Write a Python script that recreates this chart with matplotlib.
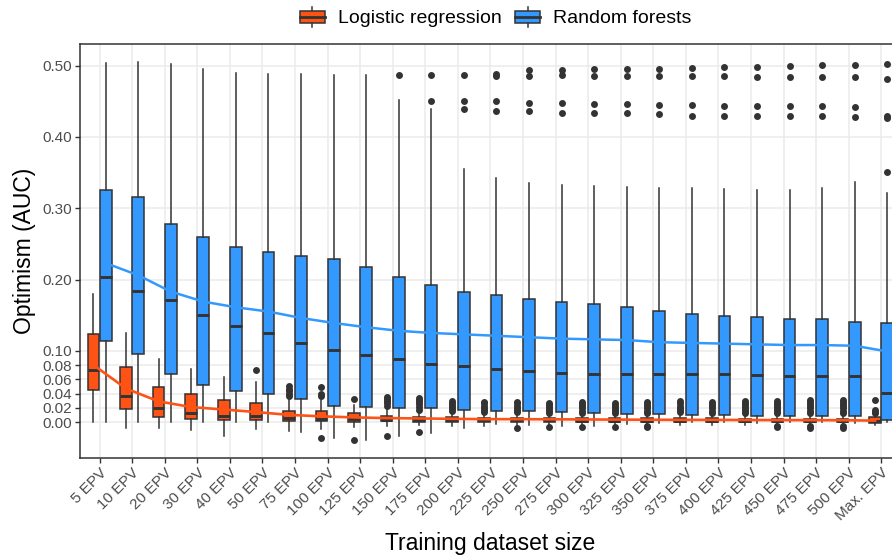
import matplotlib
matplotlib.use("Agg")
import matplotlib.pyplot as plt
import numpy as np
from matplotlib.patches import Patch, Rectangle
from matplotlib.lines import Line2D
from matplotlib.legend_handler import HandlerBase

plt.rcParams['font.family'] = ['Liberation Sans', 'DejaVu Sans']

categories = ['5 EPV', '10 EPV', '20 EPV', '30 EPV', '40 EPV', '50 EPV', '75 EPV',
              '100 EPV', '125 EPV', '150 EPV', '175 EPV', '200 EPV', '225 EPV',
              '250 EPV', '275 EPV', '300 EPV', '325 EPV', '350 EPV', '375 EPV',
              '400 EPV', '425 EPV', '450 EPV', '475 EPV', '500 EPV', 'Max. EPV']

# logistic regression: box statistics per training size
lr_whishi = [0.180, 0.125, 0.089, 0.075, 0.063, 0.056, 0.033, 0.031, 0.024, 0.018,
             0.012, 0.012, 0.011, 0.011, 0.010, 0.010, 0.010, 0.010, 0.010, 0.010,
             0.010, 0.010, 0.010, 0.010, 0.011]
lr_q3 = [0.124, 0.077, 0.049, 0.039, 0.031, 0.026, 0.016, 0.016, 0.013, 0.009,
         0.0075, 0.0066, 0.006, 0.006, 0.0055, 0.0055, 0.005, 0.005, 0.005, 0.005,
         0.0045, 0.0045, 0.0045, 0.0045, 0.007]
lr_med = [0.073, 0.037, 0.020, 0.012, 0.008, 0.008, 0.005, 0.004, 0.004, 0.003,
          0.003, 0.0025, 0.0025, 0.0025, 0.0025, 0.002, 0.002, 0.002, 0.002, 0.002,
          0.002, 0.002, 0.002, 0.002, 0.002]
lr_q1 = [0.045, 0.018, 0.007, 0.004, 0.003, 0.003, 0.0014, 0.0014, 0.0, 0.001,
         0.0, 0.0, 0.0, 0.0, 0.0, 0.0, 0.0, 0.0, 0.0, 0.0,
         0.0, 0.0, 0.0, 0.0, -0.001]
lr_whislo = [0.0, -0.009, -0.009, -0.011, -0.019, -0.010, -0.013, -0.010, -0.007, -0.006,
             -0.004, -0.005, -0.006, -0.005, -0.005, -0.005, -0.005, -0.005, -0.004, -0.004,
             -0.004, -0.004, -0.004, -0.004, -0.004]
lr_mean = [0.080, 0.047, 0.029, 0.021, 0.0175, 0.014, 0.010, 0.008, 0.0065, 0.0055,
           0.005, 0.0045, 0.004, 0.004, 0.0038, 0.0036, 0.0034, 0.0032, 0.003, 0.003,
           0.0028, 0.0027, 0.0026, 0.0025, 0.002]
lr_fliers = [[], [], [], [], [], [0.073],
             [0.050, 0.046, 0.043, 0.040, 0.037],
             [0.049, 0.040, 0.037, -0.023],
             [0.032, -0.025],
             [0.035, 0.032, 0.029, 0.026, 0.022, -0.019],
             [0.034, 0.031, 0.028, 0.025, 0.021, 0.017, -0.014],
             [0.030, 0.027, 0.024, 0.021, 0.018, 0.015],
             [0.0285, 0.026, 0.023, 0.020, 0.017, 0.014],
             [0.0285, 0.026, 0.023, 0.020, 0.017, 0.014, -0.009],
             [0.027, 0.024, 0.021, 0.018, 0.015, 0.012, -0.0075],
             [0.0285, 0.025, 0.022, 0.019, 0.016, 0.013, -0.0075],
             [0.027, 0.024, 0.021, 0.018, 0.015, 0.012, -0.007],
             [0.0285, 0.025, 0.022, 0.019, 0.016, 0.013, -0.006, -0.0075],
             [0.029, 0.026, 0.023, 0.020, 0.017, 0.014],
             [0.0285, 0.025, 0.022, 0.019, 0.016, 0.013],
             [0.030, 0.027, 0.024, 0.021, 0.018, 0.015, 0.012],
             [0.030, 0.027, 0.024, 0.021, 0.018, 0.015, 0.012, -0.006, -0.0075],
             [0.031, 0.028, 0.025, 0.022, 0.019, 0.016, 0.013, -0.006, -0.008],
             [0.031, 0.028, 0.025, 0.022, 0.019, 0.016, 0.013, -0.006, -0.008],
             [0.031, 0.0175, 0.0145, 0.0125]]

# random forests
rf_whishi = [0.504, 0.505, 0.503, 0.496, 0.490, 0.489, 0.488, 0.487, 0.487, 0.452,
             0.439, 0.355, 0.343, 0.336, 0.332, 0.331, 0.330, 0.329, 0.328, 0.327,
             0.326, 0.326, 0.329, 0.337, 0.321]
rf_q3 = [0.326, 0.316, 0.278, 0.260, 0.246, 0.239, 0.233, 0.229, 0.218, 0.204,
         0.192, 0.182, 0.178, 0.173, 0.169, 0.166, 0.162, 0.156, 0.152, 0.149,
         0.147, 0.145, 0.144, 0.141, 0.139]
rf_med = [0.203, 0.184, 0.171, 0.150, 0.135, 0.125, 0.111, 0.101, 0.094, 0.088,
          0.082, 0.078, 0.074, 0.071, 0.069, 0.068, 0.068, 0.068, 0.067, 0.067,
          0.066, 0.065, 0.064, 0.064, 0.041]
rf_q1 = [0.114, 0.095, 0.067, 0.052, 0.044, 0.040, 0.033, 0.023, 0.021, 0.020,
         0.019, 0.017, 0.016, 0.015, 0.014, 0.012, 0.011, 0.011, 0.010, 0.010,
         0.009, 0.009, 0.009, 0.009, 0.003]
rf_whislo = [0.0, 0.0, 0.0, 0.0, 0.0, 0.0, -0.014, -0.023, -0.025, -0.019,
             -0.015, -0.008, -0.003, -0.004, -0.006, -0.006, -0.003, -0.001, 0.0, 0.0,
             -0.001, 0.0, 0.0, -0.001, 0.0]
rf_mean = [0.223, 0.206, 0.183, 0.169, 0.161, 0.155, 0.146, 0.139, 0.133, 0.128,
           0.125, 0.123, 0.121, 0.119, 0.117, 0.116, 0.115, 0.112, 0.111, 0.110,
           0.109, 0.108, 0.108, 0.107, 0.099]
rf_fliers = [[], [], [], [], [], [], [], [], [], [0.487],
             [0.487, 0.451],
             [0.487, 0.451, 0.439],
             [0.489, 0.486, 0.450, 0.437],
             [0.494, 0.486, 0.448, 0.436],
             [0.494, 0.487, 0.447, 0.434],
             [0.495, 0.485, 0.446, 0.434],
             [0.496, 0.485, 0.446, 0.433],
             [0.496, 0.485, 0.445, 0.432],
             [0.497, 0.485, 0.445, 0.430],
             [0.498, 0.485, 0.444, 0.430],
             [0.498, 0.484, 0.443, 0.429],
             [0.4995, 0.484, 0.443, 0.429],
             [0.501, 0.484, 0.443, 0.429],
             [0.501, 0.484, 0.4425, 0.428],
             [0.502, 0.481, 0.429, 0.427, 0.351]]

yticks = [0.0, 0.02, 0.04, 0.06, 0.08, 0.10, 0.20, 0.30, 0.40, 0.50]

LR_COL = '#FF5215'
RF_COL = '#3399FF'
EDGE = '#333333'


def box_stats(whislo, q1, med, q3, whishi, fliers):
    return [dict(whislo=a, q1=b, med=c, q3=d, whishi=e, fliers=f)
            for a, b, c, d, e, f in zip(whislo, q1, med, q3, whishi, fliers)]


class BoxKey(HandlerBase):
    # little boxplot glyph for the legend
    def create_artists(self, legend, orig, xdescent, ydescent, width, height, fontsize, trans):
        x0, y0 = -xdescent, -ydescent
        bh = height * 0.62
        whisk = Line2D([x0 + width / 2] * 2, [y0, y0 + height], color=EDGE, lw=1.1, transform=trans)
        rect = Rectangle((x0, y0 + (height - bh) / 2), width, bh, facecolor=orig.get_facecolor(),
                         edgecolor=EDGE, lw=1.1, transform=trans)
        med = Line2D([x0, x0 + width], [y0 + height / 2] * 2, color=EDGE, lw=2.0, transform=trans)
        return [whisk, rect, med]


fig = plt.figure(figsize=(8.92, 5.55), dpi=100)
ax = fig.add_axes([80 / 892, 97 / 555, 812 / 892, 414 / 555])

pos = np.arange(1, len(categories) + 1)
off = 0.1875

common = dict(widths=0.36, patch_artist=True, showcaps=False, manage_ticks=False,
              medianprops=dict(color=EDGE, lw=2.1),
              whiskerprops=dict(color=EDGE, lw=1.1),
              flierprops=dict(marker='o', markerfacecolor=EDGE, markeredgecolor='none',
                              markersize=5.0, zorder=4))

ax.bxp(box_stats(lr_whislo, lr_q1, lr_med, lr_q3, lr_whishi, lr_fliers), positions=pos - off,
       boxprops=dict(facecolor=LR_COL, edgecolor=EDGE, lw=1.1), **common)
ax.bxp(box_stats(rf_whislo, rf_q1, rf_med, rf_q3, rf_whishi, rf_fliers), positions=pos + off,
       boxprops=dict(facecolor=RF_COL, edgecolor=EDGE, lw=1.1), **common)

ax.plot(pos - off, lr_mean, color=LR_COL, lw=1.9, zorder=3)
ax.plot(pos + off, rf_mean, color=RF_COL, lw=1.8, zorder=3)

ax.set_xlim(0.4, 0.4 + 811.5 / 32.55)
ax.set_ylim(-0.0505, 0.5305)
ax.set_xticks(pos)
ax.set_xticklabels(categories, rotation=45, ha='right', va='top', rotation_mode='anchor')
ax.set_yticks(yticks)
ax.set_yticklabels(['%.2f' % v for v in yticks])
ax.tick_params(length=3.5, width=1.0, color=EDGE, labelsize=11, labelcolor='#4D4D4D', pad=2)

ax.grid(color='#EBEBEB', lw=1.1)
ax.set_axisbelow(True)
for s in ['left', 'top', 'bottom']:
    ax.spines[s].set_color(EDGE)
    ax.spines[s].set_linewidth(1.1)
ax.spines['right'].set_visible(False)

ax.set_ylabel('Optimism (AUC)', fontsize=16.5)
ax.yaxis.set_label_coords(-0.054, 0.5)
ax.set_xlabel('Training dataset size', fontsize=16.5)
ax.xaxis.set_label_coords(0.505, -0.178)

handles = [Patch(facecolor=LR_COL), Patch(facecolor=RF_COL)]
fig.legend(handles, ['Logistic regression', 'Random forests'], handler_map={Patch: BoxKey()},
           loc='center', bbox_to_anchor=(496 / 892, 1 - 17 / 555), ncol=2, frameon=False,
           fontsize=14, handlelength=1.25, handleheight=1.2, handletextpad=0.7,
           columnspacing=0.7, borderpad=0)

fig.savefig('out.png', dpi=100)
